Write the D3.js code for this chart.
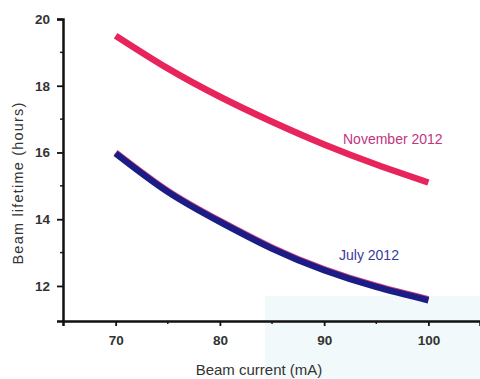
<!DOCTYPE html>
<html>
<head>
<meta charset="utf-8">
<script src="https://cdn.jsdelivr.net/npm/d3@7"></script>
<style>
  body { margin: 0; background: #fff; }
  svg { display: block; }
</style>
</head>
<body>
<div id="chart"></div>
<script>
// Beam lifetime vs beam current, two runs
const currents = [70, 75, 80, 85, 90, 95, 100];
const lifetimeNov = [19.5, 18.52, 17.67, 16.92, 16.24, 15.64, 15.1];
const lifetimeJul = [15.97, 14.82, 13.92, 13.12, 12.47, 11.97, 11.57];
const xTicks = [70, 80, 90, 100];
const xMinor = [75, 85, 95];
const yTicks = [12, 14, 16, 18, 20];
const yMinor = [13, 15, 17, 19];

const W = 480, H = 379;

const svg = d3.select("#chart").append("svg")
    .attr("width", W)
    .attr("height", H);

// faint tint at bottom right, as in the scanned original
svg.append("rect")
    .attr("x", 265).attr("y", 296)
    .attr("width", W - 265).attr("height", H - 296)
    .attr("fill", "#f1f9fa");

const x = d3.scaleLinear().domain([64.95, 104.95]).range([63, 480]);
const y = d3.scaleLinear().domain([10.95, 20]).range([321, 19]);

// minor ticks
svg.append("g").selectAll("line").data(xMinor).join("line")
    .attr("x1", d => x(d)).attr("x2", d => x(d))
    .attr("y1", 321).attr("y2", 324)
    .attr("stroke", "#222").attr("stroke-width", 1.5);
svg.append("g").selectAll("line").data(yMinor).join("line")
    .attr("x1", 60).attr("x2", 63)
    .attr("y1", d => y(d)).attr("y2", d => y(d))
    .attr("stroke", "#222").attr("stroke-width", 1.5);

const gx = svg.append("g")
    .attr("transform", "translate(0,321)")
    .call(d3.axisBottom(x).tickValues(xTicks).tickSizeOuter(0).tickSize(5).tickPadding(9));
const gy = svg.append("g")
    .attr("transform", "translate(63,0)")
    .call(d3.axisLeft(y).tickValues(yTicks).tickSizeOuter(0).tickSize(6).tickPadding(7));

[gx, gy].forEach(g => {
    g.select(".domain").attr("stroke", "#111").attr("stroke-width", 2.5);
    g.selectAll(".tick line").attr("stroke", "#111").attr("stroke-width", 1.8);
    g.selectAll(".tick text")
        .attr("font-family", "Liberation Sans, Arial, sans-serif")
        .attr("font-size", 13.5)
        .attr("font-weight", "bold")
        .attr("fill", "#333");
});

const line = d3.line()
    .x((d, i) => x(currents[i]))
    .y(d => y(d))
    .curve(d3.curveNatural);

// slight colour fringe of the scan around the July line
svg.append("path").datum(lifetimeJul)
    .attr("d", line)
    .attr("transform", "translate(0,-1)")
    .attr("fill", "none")
    .attr("stroke", "#d0407a")
    .attr("stroke-width", 6.5);

svg.append("path").datum(lifetimeJul)
    .attr("d", line)
    .attr("fill", "none")
    .attr("stroke", "#1c1c86")
    .attr("stroke-width", 6.5);

svg.append("path").datum(lifetimeNov)
    .attr("d", line)
    .attr("fill", "none")
    .attr("stroke", "#e8245c")
    .attr("stroke-width", 6.5);

// series labels
svg.append("text")
    .attr("x", 343).attr("y", 144)
    .attr("font-family", "Liberation Sans, Arial, sans-serif")
    .attr("font-size", 14)
    .attr("fill", "#c23482")
    .text("November 2012");

svg.append("text")
    .attr("x", 339).attr("y", 260)
    .attr("font-family", "Liberation Sans, Arial, sans-serif")
    .attr("font-size", 14)
    .attr("fill", "#3b3b9c")
    .text("July 2012");

// axis titles
svg.append("text")
    .attr("transform", "translate(23,183) rotate(-90)")
    .attr("text-anchor", "middle")
    .attr("font-family", "Liberation Sans, Arial, sans-serif")
    .attr("font-size", 14.5)
    .attr("letter-spacing", 1.2)
    .attr("fill", "#333")
    .text("Beam lifetime (hours)");

svg.append("text")
    .attr("x", 259).attr("y", 375)
    .attr("text-anchor", "middle")
    .attr("font-family", "Liberation Sans, Arial, sans-serif")
    .attr("font-size", 15)
    .attr("fill", "#333")
    .text("Beam current (mA)");
</script>
</body>
</html>
